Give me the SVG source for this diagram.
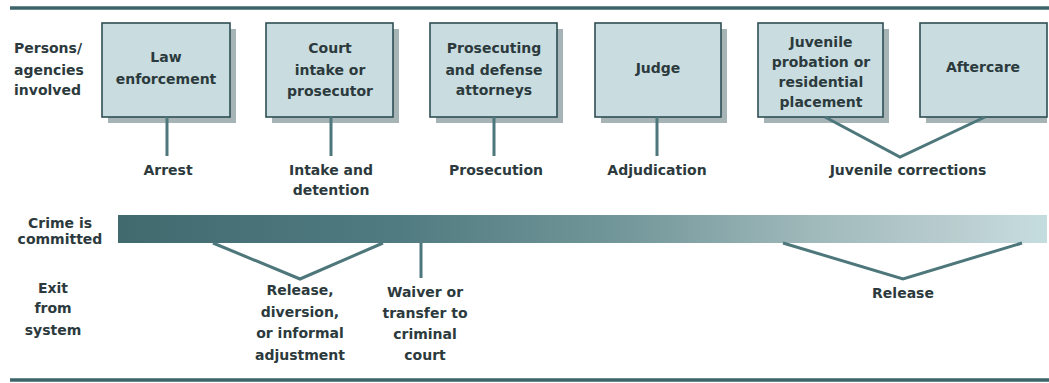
<svg xmlns="http://www.w3.org/2000/svg" width="1049" height="383" viewBox="0 0 1049 383">
<style>
text{font-family:"DejaVu Sans","Liberation Sans",sans-serif;font-weight:bold;font-size:14px;fill:#2c3a3d;text-anchor:middle}
.lt{text-anchor:start}
.box{fill:#c9dde0;stroke:#2e4e53;stroke-width:1.6}
.sh{fill:#a7b4b6}
.ln{stroke:#4d777b;stroke-width:3;fill:none;stroke-linejoin:miter}
.rule{stroke:#3d6468;stroke-width:3.5}
</style>
<defs>
<linearGradient id="bar" x1="0" y1="0" x2="1" y2="0">
<stop offset="0" stop-color="#416a6f"/>
<stop offset="0.3" stop-color="#507b80"/>
<stop offset="0.55" stop-color="#74989b"/>
<stop offset="0.75" stop-color="#a0b9bb"/>
<stop offset="0.9" stop-color="#b9cdcf"/>
<stop offset="1" stop-color="#c6dde0"/>
</linearGradient>
</defs>
<rect width="1049" height="383" fill="#ffffff"/>
<line class="rule" x1="10" y1="8" x2="1049" y2="8"/>
<line class="rule" x1="10" y1="380" x2="1049" y2="380"/>

<g id="row-labels">
<text class="lt" x="14" y="53">Persons/</text>
<text class="lt" x="14" y="75">agencies</text>
<text class="lt" x="14" y="95">involved</text>
<text x="60" y="228">Crime is</text>
<text x="60" y="244">committed</text>
<text x="53" y="293">Exit</text>
<text x="53" y="313">from</text>
<text x="53" y="335">system</text>
</g>

<g id="crime-bar">
<rect x="118" y="215" width="929" height="28" fill="url(#bar)"/>
</g>

<g id="node-law">
<rect class="sh" x="108" y="29" width="128" height="94"/>
<rect class="box" x="102" y="23" width="128" height="94"/>
<text x="166" y="62">Law</text>
<text x="166" y="84">enforcement</text>
</g>
<g id="node-court">
<rect class="sh" x="272" y="29" width="127" height="94"/>
<rect class="box" x="266" y="23" width="127" height="94"/>
<text x="330" y="53">Court</text>
<text x="330" y="75">intake or</text>
<text x="330" y="96">prosecutor</text>
</g>
<g id="node-attorneys">
<rect class="sh" x="436" y="29" width="127" height="94"/>
<rect class="box" x="430" y="23" width="127" height="94"/>
<text x="494" y="53">Prosecuting</text>
<text x="494" y="75">and defense</text>
<text x="494" y="95">attorneys</text>
</g>
<g id="node-judge">
<rect class="sh" x="601" y="29" width="126" height="94"/>
<rect class="box" x="595" y="23" width="126" height="94"/>
<text x="658" y="73">Judge</text>
</g>
<g id="node-probation">
<rect class="sh" x="764" y="29" width="125" height="94"/>
<rect class="box" x="758" y="23" width="125" height="94"/>
<text x="821" y="47">Juvenile</text>
<text x="821" y="67">probation or</text>
<text x="821" y="87">residential</text>
<text x="821" y="107">placement</text>
</g>
<g id="node-aftercare">
<rect class="sh" x="926" y="29" width="121" height="94"/>
<rect class="box" x="920" y="23" width="127" height="94"/>
<text x="983" y="72">Aftercare</text>
</g>

<g id="connectors">
<line class="ln" x1="167" y1="117" x2="167" y2="156"/>
<line class="ln" x1="331" y1="117" x2="331" y2="156"/>
<line class="ln" x1="494" y1="117" x2="494" y2="156"/>
<line class="ln" x1="657" y1="117" x2="657" y2="156"/>
<polyline class="ln" points="825,117 900,157 985,117"/>
<polyline class="ln" points="213,243 300,279 383,243"/>
<line class="ln" x1="421" y1="243" x2="421" y2="278"/>
<polyline class="ln" points="783,243 903,279 1022,243"/>
</g>

<g id="stage-labels">
<text x="168" y="175">Arrest</text>
<text x="331" y="175">Intake and</text>
<text x="331" y="195">detention</text>
<text x="496" y="175">Prosecution</text>
<text x="657" y="175">Adjudication</text>
<text x="908" y="175">Juvenile corrections</text>
<text x="300" y="295">Release,</text>
<text x="300" y="317">diversion,</text>
<text x="300" y="338">or informal</text>
<text x="300" y="360">adjustment</text>
<text x="425" y="297">Waiver or</text>
<text x="425" y="318">transfer to</text>
<text x="425" y="339">criminal</text>
<text x="425" y="360">court</text>
<text x="903" y="298">Release</text>
</g>
</svg>
